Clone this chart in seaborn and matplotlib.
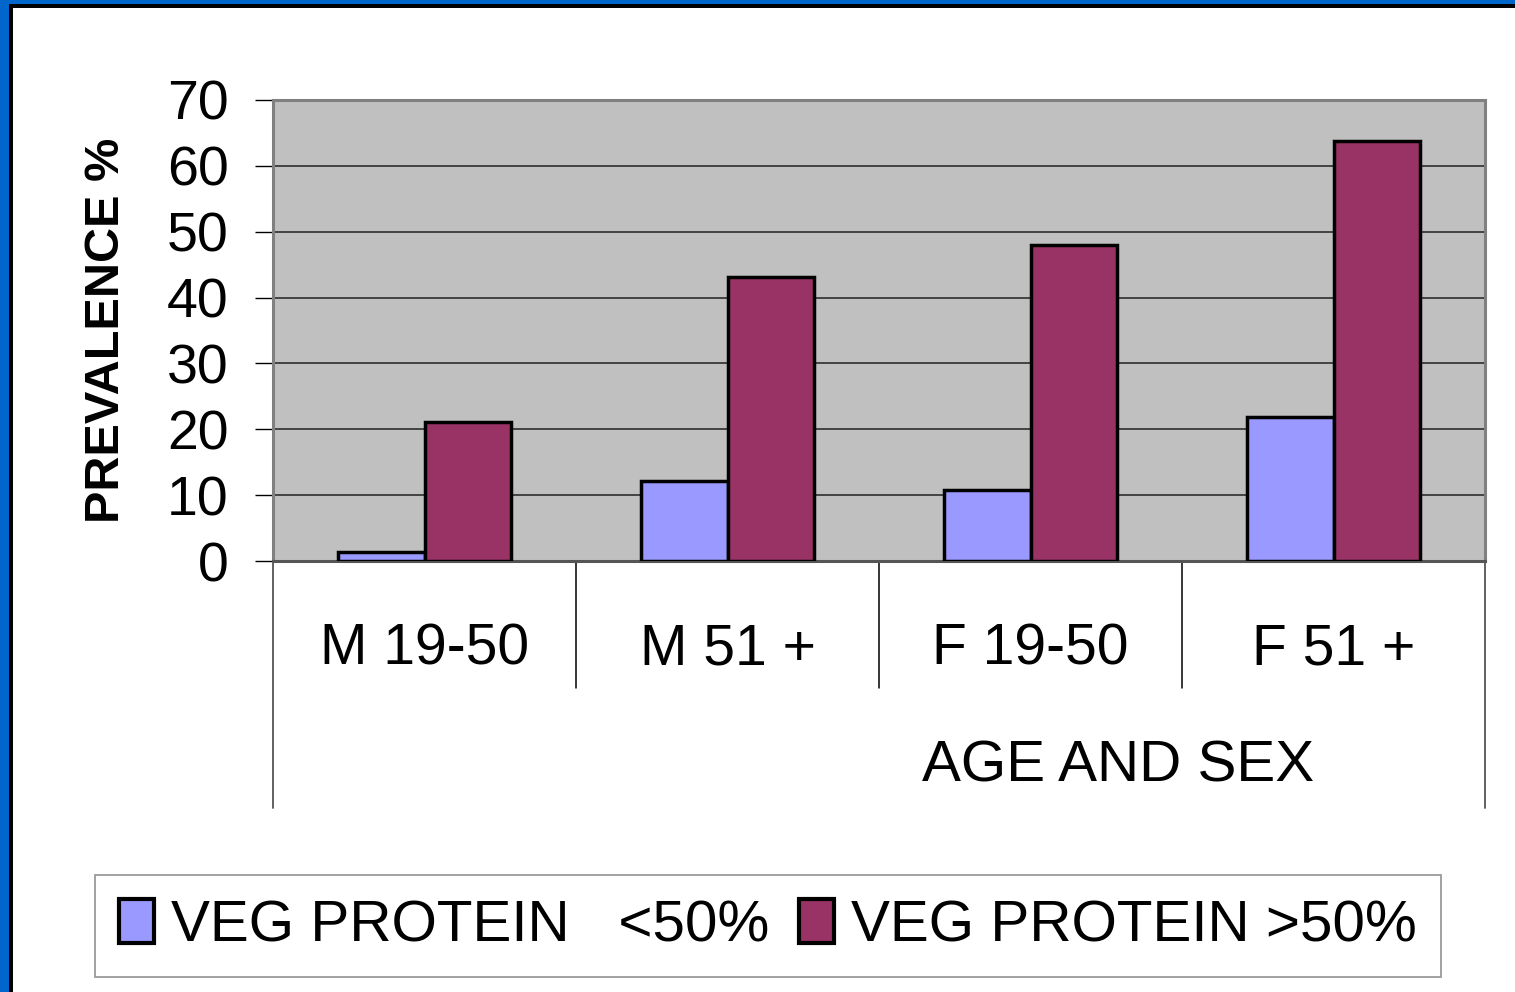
import numpy as np
import pandas as pd
import matplotlib
matplotlib.use("Agg")
import matplotlib.pyplot as plt
import matplotlib.transforms as mtransforms
from matplotlib.patches import Rectangle
import seaborn as sns

# --- Datos del grafico ---
groups = ["M 19-50", "M 51 +", "F 19-50", "F 51 +"]
series = ["VEG PROTEIN   <50%", "VEG PROTEIN >50%"]
veg_low = [1.3, 12.1, 10.8, 21.9]
veg_high = [21.1, 43.1, 48.0, 63.7]
yticks = [0, 10, 20, 30, 40, 50, 60, 70]
colors = ["#9999FF", "#993366"]

df = pd.DataFrame({
    "group": groups * 2,
    "serie": [series[0]] * len(groups) + [series[1]] * len(groups),
    "value": veg_low + veg_high,
})

sns.set_theme(style="white")
plt.rcParams["font.family"] = ["Liberation Sans", "DejaVu Sans"]
plt.rcParams["text.color"] = "black"
plt.rcParams["axes.labelcolor"] = "black"
plt.rcParams["xtick.color"] = "black"
plt.rcParams["ytick.color"] = "black"

W, H = 1515, 992
fig = plt.figure(figsize=(W / 100, H / 100), dpi=100)
fig.patch.set_facecolor("#0066CC")

# marco de la diapositiva
fig.patches.append(Rectangle((9 / W, -0.1), 1.2, 1.1 - 4 / H, transform=fig.transFigure,
                             facecolor="black", edgecolor="none", zorder=-2))
fig.patches.append(Rectangle((13 / W, -0.1), 1.2, 1.1 - 8 / H, transform=fig.transFigure,
                             facecolor="white", edgecolor="none", zorder=-1))

ax = fig.add_axes([273 / W, 1 - 561 / H, (1485 - 273) / W, (561 - 100) / H])
ax.set_facecolor("#C0C0C0")

sns.barplot(data=df, x="group", y="value", hue="serie", palette=colors, saturation=1,
            width=0.57, edgecolor="black", linewidth=2.5, ax=ax, zorder=3)

ax.set_ylim(0, 70)
ax.set_xlim(-0.5, 3.5)
ax.set_yticks(yticks)
ax.set_yticklabels([str(t) for t in yticks], fontsize=40)
ax.tick_params(axis="y", left=True, length=13, width=1, color="black", pad=19)
ax.tick_params(axis="x", bottom=False, labelsize=41, pad=38)
ax.set_xlabel("")
ax.set_ylabel("PREVALENCE %", fontsize=35, fontweight="bold")
ax.yaxis.set_label_coords(-0.119, 0.5)

for y in yticks[1:-1]:
    ax.axhline(y, color="#222222", linewidth=1.1, zorder=1)

for side in ["top", "right", "left", "bottom"]:
    ax.spines[side].set_visible(True)
    ax.spines[side].set_color("#808080")
    ax.spines[side].set_linewidth(2.2)
ax.spines["bottom"].set_color("#555555")

# lineas de la tabla de categorias
trans = mtransforms.blended_transform_factory(ax.transData, ax.transAxes)
for xb in [-0.5, 3.5]:
    ax.plot([xb, xb], [0, -0.5358], transform=trans, color="#555555",
            linewidth=1.3, clip_on=False)
for xb in [0.5, 1.5, 2.5]:
    ax.plot([xb, xb], [0, -0.2755], transform=trans, color="black",
            linewidth=1.1, clip_on=False)

fig.text(1118 / W, 1 - 766 / H, "AGE AND SEX", fontsize=42, ha="center", va="center")

handles, labels = ax.get_legend_handles_labels()
ax.legend_.remove()
leg = fig.legend(handles, labels, loc="center", bbox_to_anchor=(768 / W, 1 - 926 / H),
                 ncol=2, fontsize=42, frameon=True, fancybox=False, edgecolor="#808080",
                 handlelength=0.6, handleheight=0.8, handletextpad=0.3,
                 columnspacing=0.5, borderpad=0.4, borderaxespad=0)
leg.get_frame().set_linewidth(1.3)
for hnd in leg.legend_handles:
    hnd.set_linewidth(3)

fig.savefig("out.png", dpi=100, facecolor=fig.get_facecolor())
